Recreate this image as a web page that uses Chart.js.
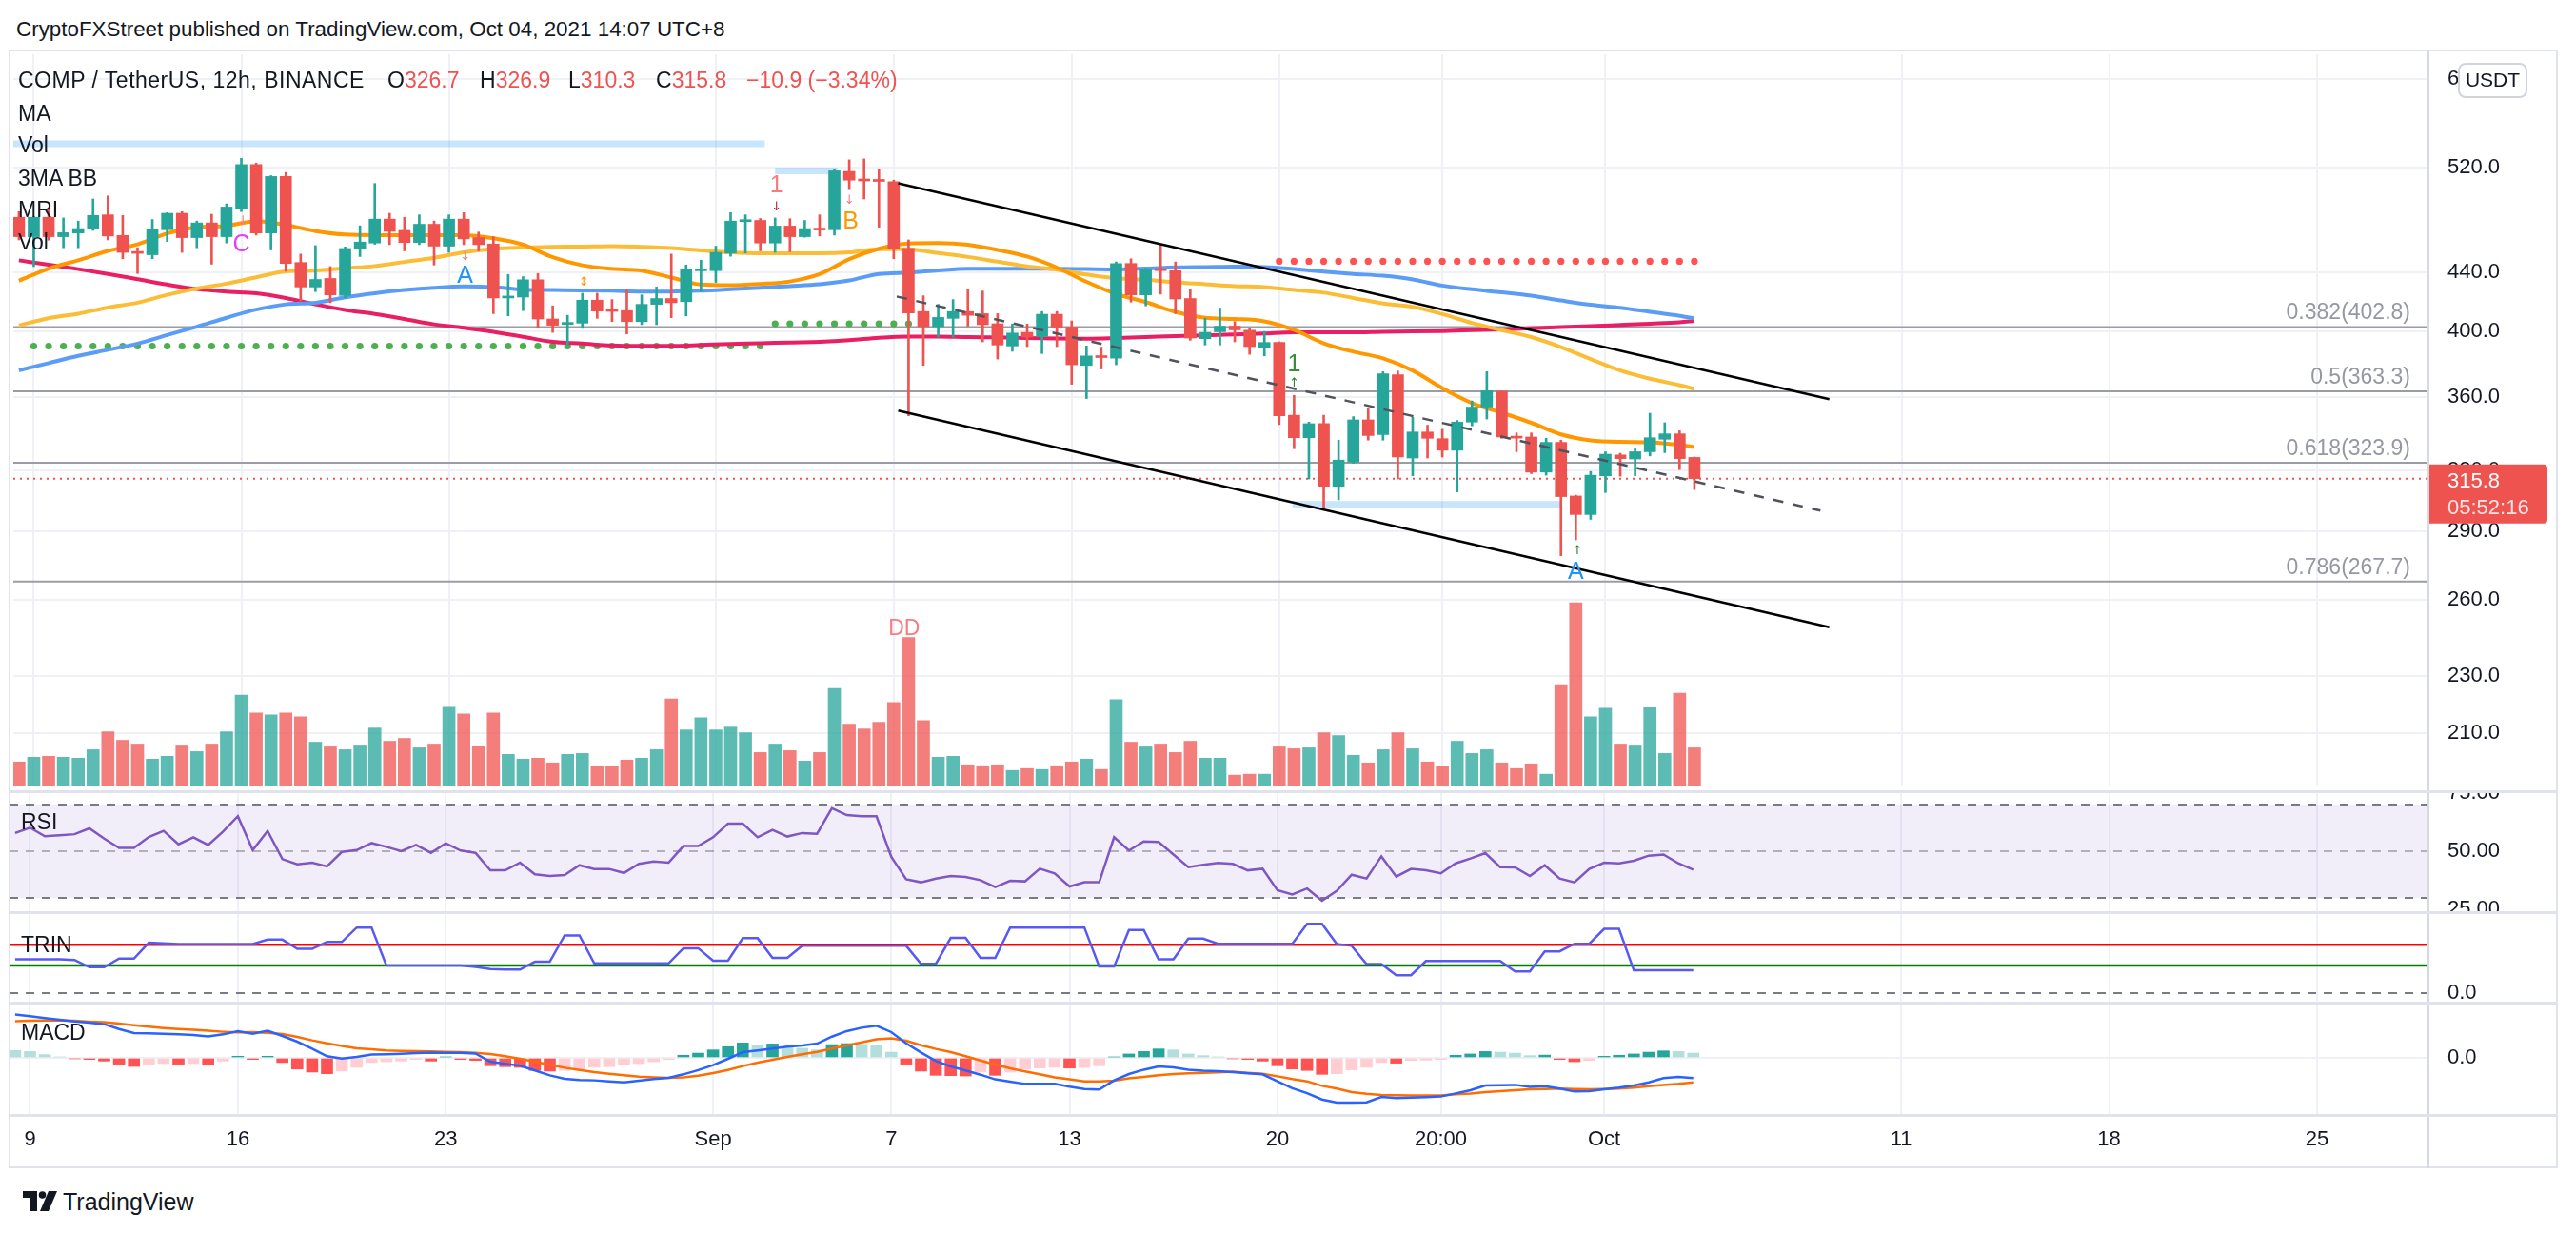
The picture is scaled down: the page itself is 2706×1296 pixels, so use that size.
<!DOCTYPE html>
<html>
<head>
<meta charset="utf-8">
<title>COMP / TetherUS 12h</title>
<script src="https://cdn.jsdelivr.net/npm/chart.js@4.4.1/dist/chart.umd.min.js"></script>
<style>
html,body{margin:0;padding:0;background:#fff;}
body{width:2706px;height:1296px;position:relative;overflow:hidden;font-family:"Liberation Sans",Arial,sans-serif;color:#131722;}
canvas{position:absolute;left:10px;}
.t{position:absolute;white-space:pre;line-height:1;font-size:23px;z-index:6;}
.r{color:#ef5350;}
.sep{position:absolute;background:#e0e3eb;z-index:5;}
</style>
</head>
<body>
<div class="t" style="left:17px;top:20px;font-size:22.4px;">CryptoFXStreet published on TradingView.com, Oct 04, 2021 14:07 UTC+8</div>

<div class="t" style="left:19px;top:73px;letter-spacing:0.5px;">COMP / TetherUS, 12h, BINANCE</div>
<div class="t" style="left:407px;top:73px;">O<span class="r" id="lgO"></span></div>
<div class="t" style="left:504px;top:73px;">H<span class="r" id="lgH"></span></div>
<div class="t" style="left:597px;top:73px;">L<span class="r" id="lgL"></span></div>
<div class="t" style="left:689px;top:73px;">C<span class="r" id="lgC"></span></div>
<div class="t r" style="left:784px;top:73px;" id="lgChg"></div>
<div class="t" style="left:19px;top:108px;">MA</div>
<div class="t" style="left:19px;top:141px;">Vol</div>
<div class="t" style="left:19px;top:176px;">3MA BB</div>
<div class="t" style="left:19px;top:209px;">MRI</div>
<div class="t" style="left:19px;top:243px;">Vol</div>
<div class="t" style="left:22px;top:852px;">RSI</div>
<div class="t" style="left:22px;top:981px;">TRIN</div>
<div class="t" style="left:22px;top:1073px;">MACD</div>

<canvas id="cPrice" width="2676" height="777" style="top:53px"></canvas>
<canvas id="cRsi" width="2676" height="124" style="top:833px"></canvas>
<canvas id="cTrin" width="2676" height="92" style="top:960px"></canvas>
<canvas id="cMacd" width="2676" height="171" style="top:1055px"></canvas>

<div class="sep" style="left:10px;top:52px;width:2677px;height:2px;"></div>
<div class="sep" style="left:9px;top:52px;width:2px;height:1175px;"></div>
<div class="sep" style="left:2685px;top:52px;width:2px;height:1175px;"></div>
<div class="sep" style="left:10px;top:1225px;width:2677px;height:2px;"></div>
<div class="sep" style="left:2550px;top:52px;width:2px;height:1175px;background:#d6d9e1;"></div>
<div class="sep" style="left:10px;top:830px;width:2677px;height:3px;"></div>
<div class="sep" style="left:10px;top:957px;width:2677px;height:3px;"></div>
<div class="sep" style="left:10px;top:1052px;width:2677px;height:3px;"></div>
<div class="sep" style="left:10px;top:1170px;width:2677px;height:3px;"></div>

<svg style="position:absolute;left:24px;top:1251px;z-index:6" width="36" height="22" viewBox="0 0 36 22">
  <rect x="0" y="0" width="15" height="7" fill="#131722"/>
  <rect x="7" y="0" width="8" height="21" fill="#131722"/>
  <circle cx="20.5" cy="4" r="3.8" fill="#131722"/>
  <polygon points="27,0 36,0 27,21 18,21" fill="#131722"/>
</svg>
<div class="t" style="left:66px;top:1250px;font-size:25px;">TradingView</div>

<script>
// ---------------- DATA ----------------
const barStart = -1;                 // first bar index (Aug 8, 20:00); bar 0 = Aug 9
const openP = [480.3,465.6,480.3,465.6,468.4,471.7,482.2,466.5,453.9,452.3,
 470.8,483.4,464.9,476.0,465.6,487.1,522.7,468.4,512.8,446.7,
 429.5,435.4,423.7,456.9,460.9,478.9,470.3,461.3,475.0,458.6,
 478.9,464.9,460.2,422.0,422.6,434.5,408.0,404.5,405.3,420.5,
 413.5,413.5,406.3,417.7,421.6,419.5,440.8,440.9,453.5,477.0,
 477.9,460.9,473.6,465.6,471.0,470.8,517.0,509.5,509.0,508.5,
 456.9,412.9,403.1,408.4,412.9,411.5,404.9,390.7,399.3,396.7,
 411.1,402.7,378.7,384.5,383.1,446.0,424.1,441.5,440.9,421.6,
 395.3,399.7,403.3,400.7,389.4,392.9,349.6,337.2,344.9,311.9,
 324.3,347.0,338.9,373.0,326.4,340.3,336.7,330.5,345.8,354.2,
 363.3,337.4,337.6,319.1,334.7,307.1,298.1,317.2,328.0,325.9,
 329.7,336.4,339.3,326.7];
const highP = [484.7,481.0,487.1,479.8,477.4,494.6,497.1,481.7,457.4,478.6,
 483.9,484.7,477.4,482.7,490.8,528.0,524.0,513.5,516.2,452.8,
 459.0,443.8,458.0,473.8,507.1,483.4,480.3,482.2,477.4,482.2,
 483.9,469.1,465.6,438.2,436.7,438.9,416.7,410.4,425.2,425.2,
 420.9,427.4,424.1,429.5,452.8,444.9,448.3,458.6,484.0,482.2,
 479.4,479.8,479.2,477.9,482.2,518.8,526.7,527.5,518.8,509.8,
 463.2,423.5,417.7,420.9,428.0,426.7,411.5,404.7,404.7,412.9,
 412.9,406.7,390.7,390.0,447.1,449.4,442.6,459.7,447.1,428.0,
 408.4,415.2,406.3,401.9,399.9,393.3,360.9,345.8,349.6,335.9,
 348.8,353.2,374.9,375.3,348.4,344.1,341.8,346.7,357.7,374.9,
 363.5,339.8,339.8,336.9,335.9,307.5,319.4,329.7,328.9,331.3,
 350.7,345.4,341.0,326.9];
const lowP = [463.2,443.8,463.0,457.4,457.4,470.3,463.2,449.4,438.9,449.4,
 462.0,454.0,457.4,445.5,460.9,484.7,466.8,455.8,440.4,419.9,
 426.3,418.8,422.0,451.0,460.0,459.7,455.1,459.7,444.9,454.0,
 459.7,455.1,411.5,410.0,413.5,402.3,399.3,391.3,401.9,408.4,
 406.3,398.3,404.3,404.3,408.8,410.0,426.3,432.7,451.2,453.5,
 455.1,454.0,454.5,465.2,466.1,466.8,502.1,494.6,472.7,449.4,
 349.3,378.7,396.3,396.3,403.3,393.3,382.6,387.4,390.3,386.0,
 390.3,367.4,359.1,376.5,379.1,419.2,416.7,424.6,411.5,394.3,
 391.3,391.3,393.3,385.5,384.5,344.4,331.3,315.6,301.1,305.2,
 323.6,335.9,335.9,315.6,317.2,326.4,326.9,309.1,343.7,347.5,
 336.9,329.7,318.3,317.5,279.0,286.2,295.8,308.8,317.0,317.2,
 327.5,329.2,320.4,310.3];
const closeP = [465.6,480.3,465.6,468.6,471.7,481.7,466.1,454.0,453.3,471.0,
 483.4,464.9,476.0,465.6,488.3,522.7,468.4,512.8,446.0,429.5,
 434.7,424.1,456.9,461.6,478.9,469.6,461.3,475.0,458.6,478.9,
 464.0,459.7,422.0,422.6,434.5,408.0,403.9,405.1,420.5,413.2,
 413.0,406.3,417.7,421.6,418.8,441.5,441.1,454.0,477.4,477.4,
 460.9,473.6,465.6,471.7,470.6,517.5,509.8,509.2,508.8,456.3,
 411.9,403.1,409.0,412.9,410.4,404.3,391.3,398.9,396.3,411.1,
 402.7,379.1,384.5,383.5,446.0,424.1,442.0,440.9,421.3,395.7,
 399.3,403.3,400.9,390.3,392.9,349.3,337.2,344.9,311.9,325.3,
 347.0,338.4,373.6,326.9,340.3,336.9,330.5,345.8,354.2,363.6,
 337.6,337.0,319.1,334.7,306.8,298.1,317.5,328.4,326.1,329.7,
 337.2,339.3,326.1,315.8];
const volumeK = [25,30,31,30,29,38,57,48,44,28,
 31,43,36,44,57,96,77,75,77,73,
 46,41,38,43,61,47,50,40,44,84,
 76,42,77,33,28,29,24,33,34,20,
 20,27,29,38,92,59,72,59,62,56,
 35,44,37,26,35,103,65,60,67,88,
 157,69,30,31,22,21,22,16,18,17,
 21,25,28,17,91,46,41,44,35,47,
 29,29,11,12,12,41,39,40,56,53,
 32,24,38,56,39,25,20,47,34,38,
 24,18,23,12,107,194,73,82,44,43,
 83,34,98,40];
const rsiVals = [57.8,60.1,56.4,56.8,57.3,59.8,55.4,51.4,51.4,56.1,
 58.7,53.0,56.0,52.7,58.4,65.0,50.5,58.7,46.6,44.4,
 45.1,43.5,49.7,50.5,53.5,51.9,50.0,52.7,49.3,53.4,
 50.3,49.3,41.8,41.8,45.1,40.1,39.4,39.8,44.0,42.4,
 42.4,40.7,44.6,45.6,45.1,52.2,52.2,56.0,61.8,61.8,
 56.0,59.1,56.3,57.8,57.5,68.4,65.5,65.0,65.0,47.6,
 38.0,36.7,38.3,39.4,39.0,37.6,34.6,37.3,37.1,42.5,
 40.5,34.9,36.7,36.7,56.0,50.3,54.2,54.0,48.6,43.2,
 44.2,45.0,44.6,41.8,42.5,33.3,31.5,34.0,28.8,33.0,
 39.9,38.3,47.8,39.1,42.4,41.8,40.5,44.8,46.9,49.2,
 43.2,43.1,39.4,44.0,38.3,36.7,42.4,45.1,44.8,45.9,
 48.1,48.6,44.8,42.1];
const rsiBands = [70, 50, 30];
const trinVals = [0.98,0.98,0.98,0.98,0.96,0.75,0.75,1.00,1.00,1.46,
 1.44,1.42,1.42,1.42,1.42,1.42,1.42,1.55,1.55,1.28,
 1.28,1.48,1.48,1.90,1.90,0.80,0.80,0.80,0.80,0.80,
 0.80,0.76,0.70,0.68,0.68,0.91,0.91,1.67,1.67,0.86,
 0.86,0.86,0.86,0.86,0.86,1.30,1.30,0.94,0.94,1.59,
 1.59,1.02,1.02,1.37,1.37,1.37,1.37,1.37,1.37,1.37,
 1.37,0.85,0.85,1.60,1.60,1.02,1.02,1.90,1.90,1.90,
 1.90,1.90,1.90,0.77,0.77,1.83,1.83,0.98,0.98,1.58,
 1.58,1.43,1.43,1.43,1.43,1.43,1.43,2.01,2.01,1.42,
 1.37,0.84,0.84,0.52,0.52,0.93,0.93,0.93,0.93,0.93,
 0.93,0.63,0.63,1.21,1.21,1.43,1.43,1.86,1.86,0.66,
 0.66,0.66,0.66,0.66];
const trinUpper = 1.4, trinLower = 0.8;
const macdLine = [26.7,25.7,24.5,23.5,22.5,21.8,20.8,17.8,15.3,15.1,
 14.9,14.5,14.1,13.3,14.5,16.5,14.9,16.7,13.5,10.0,
 5.7,1.0,-0.4,0.6,2.0,2.2,2.5,2.9,3.3,3.1,
 3.1,2.7,-2.4,-3.7,-4.9,-7.8,-10.8,-12.9,-13.7,-13.9,
 -14.5,-15.1,-14.1,-13.1,-12.4,-10.2,-7.6,-4.5,-0.6,3.5,
 4.5,5.7,6.9,7.6,8.8,13.1,16.5,18.6,19.8,15.9,
 9.0,3.3,-2.0,-5.3,-7.8,-10.4,-13.3,-14.7,-16.1,-16.1,
 -16.1,-17.8,-19.2,-19.6,-13.9,-10.0,-7.3,-5.3,-5.9,-7.3,
 -8.0,-8.2,-8.8,-9.6,-10.2,-14.5,-18.8,-21.8,-25.7,-27.6,
 -27.6,-27.5,-24.1,-24.9,-24.5,-24.3,-23.9,-22.0,-20.0,-17.1,
 -16.9,-16.7,-18.0,-17.5,-19.0,-20.8,-20.6,-19.4,-18.4,-17.1,
 -15.1,-12.5,-11.8,-12.5];
const signalLine = [22.7,22.9,23.1,23.1,22.9,22.4,22.0,21.2,20.2,19.2,
 18.4,17.8,17.3,16.7,16.1,15.7,15.9,15.5,14.7,12.9,
 10.8,9.0,7.3,5.9,5.3,4.5,4.3,4.1,3.9,3.7,
 3.5,3.1,2.4,1.0,-0.6,-2.4,-4.3,-6.1,-7.5,-8.8,
 -9.8,-10.8,-11.6,-12.0,-12.4,-12.0,-11.0,-9.4,-7.5,-5.1,
 -2.9,-1.2,0.6,2.2,3.7,5.7,7.6,9.6,11.4,12.0,
 10.6,7.8,5.5,3.5,1.0,-1.6,-4.1,-6.5,-8.4,-10.2,
 -12.0,-13.3,-14.5,-14.5,-14.1,-12.7,-11.8,-10.8,-10.0,-9.6,
 -9.2,-9.0,-8.6,-9.2,-9.8,-11.4,-13.1,-14.5,-17.3,-19.0,
 -21.2,-22.2,-22.9,-23.1,-23.3,-23.3,-23.3,-22.5,-22.0,-21.2,
 -20.6,-20.0,-19.4,-19.2,-19.0,-19.2,-19.4,-19.2,-19.0,-18.4,
 -17.5,-16.7,-16.1,-15.1];
const macdHist = [4.5,3.9,2.0,0.6,-0.6,-1.0,-2.0,-3.9,-5.3,-3.9,
 -3.5,-3.9,-3.5,-4.3,-2.0,1.0,-1.0,1.0,-2.9,-6.9,
 -8.8,-9.8,-8.2,-5.9,-2.9,-2.4,-2.0,-1.0,-2.0,0.6,
 -1.0,-1.6,-4.9,-5.5,-5.9,-7.8,-8.2,-7.8,-6.9,-5.9,
 -5.5,-4.3,-3.5,-2.4,-1.0,1.6,2.9,4.9,6.9,9.2,
 7.8,8.6,6.9,5.9,4.9,8.2,8.8,8.4,7.5,3.5,
 -3.9,-8.2,-10.8,-11.0,-11.2,-8.8,-10.8,-8.8,-6.9,-6.3,
 -5.9,-6.3,-5.9,-4.9,0.6,2.4,3.9,5.5,4.9,2.4,
 1.4,0.6,-0.6,-1.0,-2.0,-4.9,-6.9,-7.8,-10.2,-9.8,
 -7.5,-5.9,-2.9,-3.3,-1.6,-1.4,-1.0,1.6,2.4,3.9,
 3.5,2.9,1.4,1.7,-1.0,-2.4,-1.6,1.0,1.6,2.4,
 3.5,4.3,3.9,2.9];
// moving averages, read every second bar
const maBars = [-1,1,3,5,7,9,11,13,15,17,19,21,23,25,27,29,31,33,35,37,39,41,43,45,47,49,51,53,55,57,
 59,61,63,65,67,69,71,73,75,77,79,81,83,85,87,89,91,93,95,97,99,101,103,105,107,109,111,112];
const maFast = [433.8,442.4,448.3,455.1,459.9,468.1,472.7,473.8,477.4,474.5,
 469.8,467.2,466.8,466.8,466.8,466.8,464.4,459.7,450.5,444.7,
 442.2,440.9,436.0,431.2,430.7,431.6,433.3,438.4,449.2,456.7,
 460.6,460.9,459.7,455.8,451.0,443.1,433.1,424.7,419.2,412.7,
 408.8,408.0,406.5,400.9,392.4,387.1,383.0,375.6,365.1,356.5,
 351.0,345.4,339.0,335.8,335.0,334.8,333.3,332.2];
const ma50 = [403.8,408.5,411.5,415.6,418.8,424.1,428.4,431.8,436.2,440.4,
 441.1,442.6,444.2,447.1,450.1,454.0,456.7,457.6,458.1,458.3,
 458.6,458.1,457.2,455.5,454.0,453.3,453.3,453.3,454.0,456.4,
 456.3,453.5,450.7,447.3,443.9,441.5,438.2,435.5,434.5,432.7,
 431.4,430.1,429.5,427.4,425.6,422.0,418.3,416.1,411.2,405.4,
 400.7,396.3,390.0,382.6,375.6,370.7,366.9,364.7];
const ma100 = [375.7,380.1,384.5,388.3,392.2,397.6,403.0,408.8,414.2,417.7,
 418.8,422.4,425.2,427.4,429.0,429.9,429.5,427.7,427.4,427.2,
 426.9,426.4,426.4,426.9,427.9,429.0,430.1,431.4,434.0,438.6,
 439.5,441.1,442.2,442.2,442.2,442.2,442.0,441.8,442.4,443.2,
 443.5,443.8,443.5,442.0,440.2,438.6,437.3,434.7,430.5,427.9,
 425.8,423.5,420.3,417.4,415.4,412.7,410.0,408.4];
const ma200 = [448.3,445.1,442.0,438.6,434.9,431.2,428.1,426.3,425.2,422.0,
 417.7,414.0,411.3,408.0,404.5,402.3,399.7,396.5,393.3,392.2,
 391.0,390.7,390.7,391.3,392.0,392.4,392.9,393.3,394.3,395.9,
 396.7,396.7,396.3,396.1,395.7,395.4,395.3,395.7,396.3,397.0,
 397.4,398.0,398.6,399.3,399.3,399.3,399.7,399.9,400.2,400.7,
 401.2,401.9,402.7,403.3,404.1,404.9,405.8,406.7];
// drawings
const fibLevels = [0.382, 0.5, 0.618, 0.786];
const fibPrices = [402.8, 363.3, 323.9, 267.7];
const lastPrice = 315.8;
const countdown = '05:52:16';
const channelBars = [58.3, 121.1];
const channelUpper = [507.2, 358.7];
const channelLower = [352.2, 248.8];
const midBars = [58.2, 120.5];
const channelMid = [423.0, 300.0];
const zoneFrom = [-1.4, 50.0, 84.9];
const zoneTo = [49.3, 54.2, 103.0];
const zonePrice = [540.4, 517.4, 303.0];
const dotFrom = [0, 50, 84];
const dotTo = [49, 59, 112];
const dotPrice = [390.6, 404.9, 447.6];
const dotColor = ['#4caf50', '#4caf50', '#ff5252'];
const noteText = ['C', 'A', '1', 'B', '1', 'A'];
const noteBar = [14.0, 29.1, 50.1, 55.1, 85.0, 104.0];
const notePrice = [459.7, 437.3, 504.9, 476.7, 378.8, 271.6];
const noteColor = ['#e040fb', '#2196f3', '#f77c80', '#ff9800', '#388e3c', '#2196f3'];
const markGlyph = ['\u2193', '\u2193', '\u2195', '\u2193', '\u2193', '\u2191', '\u2191'];
const markBar = [14.1, 29.1, 37.1, 50.1, 55.0, 85.0, 104.1];
const markPrice = [476.9, 450.7, 432.6, 488.4, 493.6, 368.1, 281.2];
const markColor = ['#f77c80', '#f77c80', '#ff9800', '#b71c1c', '#f77c80', '#2e7d32', '#2e7d32'];
const volNoteText = 'DD', volNoteBar = 58.7, volNoteVal = 166;
// axes
const priceTicks = [600, 520, 440, 400, 360, 320, 290, 260, 230, 210];
const rsiTicks = [75, 50, 25];
const dateTickBars = [0, 14, 28, 46, 58, 70, 84, 95, 106, 126, 140, 154];
const dateTickLabels = ['9', '16', '23', 'Sep', '7', '13', '20', '20:00', 'Oct', '11', '18', '25'];

// ---------------- CHARTS ----------------
const X_MIN = -1.378, X_MAX = 161.506;
const GRID = '#eff1f6';
const TXT = '#131722';
const UP = '#26a69a', DN = '#ef5350';
Chart.defaults.font.family = '"Liberation Sans", Arial, sans-serif';
Chart.defaults.font.size = 22;
Chart.defaults.color = TXT;

const bars = openP.map((_, k) => barStart + k);
const upDown = openP.map((o, k) => closeP[k] >= o);
const candleColors = upDown.map(u => u ? UP : DN);
const volColors = upDown.map(u => u ? 'rgba(38,166,154,0.75)' : 'rgba(239,83,80,0.75)');
const hLine = v => [{x: X_MIN, y: v}, {x: X_MAX, y: v}];
const series = (arr, xs) => arr.map((v, k) => ({x: xs ? xs[k] : bars[k], y: v}));

document.getElementById('lgO').textContent = openP.at(-1).toFixed(1);
document.getElementById('lgH').textContent = highP.at(-1).toFixed(1);
document.getElementById('lgL').textContent = lowP.at(-1).toFixed(1);
document.getElementById('lgC').textContent = closeP.at(-1).toFixed(1);
const chg = closeP.at(-1) - openP.at(-1);
document.getElementById('lgChg').textContent =
  '\u2212' + Math.abs(chg).toFixed(1) + ' (\u2212' + Math.abs(chg / openP.at(-1) * 100).toFixed(2) + '%)';

function xAxis(withLabels) {
  return {
    type: 'linear', min: X_MIN, max: X_MAX, offset: false, position: 'bottom',
    grid: {display: true, color: GRID, lineWidth: 2, drawTicks: false, offset: false},
    border: {display: false},
    ticks: {display: withLabels, autoSkip: false, maxRotation: 0, minRotation: 0, padding: 14,
      font: {size: 22}, color: TXT, callback: (v, i) => dateTickLabels[i]},
    afterBuildTicks: s => { s.ticks = dateTickBars.map(v => ({value: v})); },
    afterFit: s => { s.height = withLabels ? 56 : 0; s.paddingLeft = 0; s.paddingRight = 0; }
  };
}
function yAxis(type, min, max, tickVals, fmt, grid) {
  return {
    type, position: 'right', min, max,
    grid: {display: grid, color: GRID, lineWidth: 2, drawTicks: false},
    border: {display: false},
    ticks: {autoSkip: false, padding: 20, font: {size: 22}, color: TXT, callback: v => fmt(v)},
    afterBuildTicks: s => { s.ticks = tickVals.map(v => ({value: v})); },
    afterFit: s => { s.width = 135; s.paddingTop = 0; s.paddingBottom = 0; }
  };
}
function baseOptions(scales) {
  return {
    responsive: false, maintainAspectRatio: false, animation: false, events: [],
    layout: {padding: 0},
    plugins: {legend: {display: false}, tooltip: {enabled: false}},
    scales
  };
}
const lineDs = (data, color, width, order, extra) => Object.assign({
  type: 'line', data, borderColor: color, borderWidth: width, pointRadius: 0, order,
  fill: false, tension: 0
}, extra || {});

// ---- price pane ----
const priceDatasets = [
  lineDs([{x: channelBars[0], y: channelUpper[0]}, {x: channelBars[1], y: channelUpper[1]}], '#000', 2.5, 0),
  lineDs([{x: channelBars[0], y: channelLower[0]}, {x: channelBars[1], y: channelLower[1]}], '#000', 2.5, 0),
  lineDs([{x: midBars[0], y: channelMid[0]}, {x: midBars[1], y: channelMid[1]}], '#50535e', 2.5, 0, {borderDash: [11, 10]}),
  {type: 'bar', data: bars.map((b, k) => ({x: b, y: [openP[k], closeP[k]]})), backgroundColor: candleColors,
    barThickness: 12, minBarLength: 2, grouped: false, yAxisID: 'y', order: 1},
  {type: 'bar', data: bars.map((b, k) => ({x: b, y: [lowP[k], highP[k]]})), backgroundColor: candleColors,
    barThickness: 2, grouped: false, yAxisID: 'y', order: 2},
  lineDs(series(maFast, maBars), '#ff9800', 4, 3, {cubicInterpolationMode: 'monotone'}),
  lineDs(series(ma50, maBars), '#fbbd35', 4, 4, {cubicInterpolationMode: 'monotone'}),
  lineDs(series(ma100, maBars), '#5b9cf6', 4, 5, {cubicInterpolationMode: 'monotone'}),
  lineDs(series(ma200, maBars), '#e91e63', 4, 6, {cubicInterpolationMode: 'monotone'}),
];
dotPrice.forEach((p, k) => {
  const pts = [];
  for (let b = dotFrom[k]; b <= dotTo[k]; b++) pts.push({x: b, y: p});
  priceDatasets.push({type: 'line', data: pts, showLine: false, pointRadius: 3.6, pointBorderWidth: 0,
    pointBackgroundColor: dotColor[k], order: 7});
});
zonePrice.forEach((p, k) => {
  priceDatasets.push(lineDs([{x: zoneFrom[k], y: p}, {x: zoneTo[k], y: p}], 'rgba(33,150,243,0.25)', 7, 8,
    {borderCapStyle: 'butt'}));
});
priceDatasets.push(lineDs(hLine(lastPrice), '#ef5350', 2, 9, {borderDash: [2, 5]}));
fibPrices.forEach(p => priceDatasets.push(lineDs(hLine(p), '#9b9ca4', 2, 10)));
priceDatasets.push({type: 'bar', data: bars.map((b, k) => ({x: b, y: volumeK[k]})), backgroundColor: volColors,
  barThickness: 13, grouped: false, yAxisID: 'yv', order: 11});

const pricePlugin = {
  id: 'priceExtras',
  afterDatasetsDraw(chart) {
    const {ctx, chartArea: ca} = chart;
    const x = chart.scales.x, y = chart.scales.y, yv = chart.scales.yv;
    ctx.save();
    ctx.font = '23px "Liberation Sans"';
    ctx.fillStyle = '#9598a1';
    ctx.textAlign = 'right';
    ctx.textBaseline = 'bottom';
    fibLevels.forEach((lv, k) => {
      ctx.fillText(lv + '(' + fibPrices[k].toFixed(1) + ')', ca.right - 19, y.getPixelForValue(fibPrices[k]) - 3);
    });
    ctx.textAlign = 'center';
    ctx.textBaseline = 'middle';
    ctx.font = '25px "Liberation Sans"';
    noteText.forEach((t, k) => {
      ctx.fillStyle = noteColor[k];
      ctx.fillText(t, x.getPixelForValue(noteBar[k]), y.getPixelForValue(notePrice[k]));
    });
    ctx.font = '23px "Liberation Sans"';
    ctx.fillStyle = '#f77c80';
    ctx.fillText(volNoteText, x.getPixelForValue(volNoteBar), yv.getPixelForValue(volNoteVal));
    ctx.font = '13px "DejaVu Sans"';
    markGlyph.forEach((g, k) => {
      ctx.fillStyle = markColor[k];
      ctx.fillText(g, x.getPixelForValue(markBar[k]), y.getPixelForValue(markPrice[k]));
    });
    ctx.restore();
  },
  afterDraw(chart) {
    const {ctx, chartArea: ca} = chart;
    const y = chart.scales.y;
    ctx.save();
    // currency box
    ctx.fillStyle = '#fff';
    ctx.strokeStyle = '#d1d4dc';
    ctx.lineWidth = 2;
    ctx.beginPath();
    ctx.roundRect(ca.right + 32, 14, 71, 35, 7);
    ctx.fill(); ctx.stroke();
    ctx.fillStyle = TXT;
    ctx.font = '21px "Liberation Sans"';
    ctx.textAlign = 'center'; ctx.textBaseline = 'middle';
    ctx.fillText('USDT', ca.right + 67.5, 32);
    // last price label
    const py = y.getPixelForValue(lastPrice);
    ctx.fillStyle = '#ef5350';
    ctx.beginPath();
    ctx.roundRect(ca.right, py - 15, 125, 62, [0, 4, 4, 0]);
    ctx.fill();
    ctx.textAlign = 'left';
    ctx.font = '22px "Liberation Sans"';
    ctx.fillStyle = '#ffffff';
    ctx.fillText(lastPrice.toFixed(1), ca.right + 20, py + 3);
    ctx.fillStyle = 'rgba(255,255,255,0.85)';
    ctx.fillText(countdown, ca.right + 20, py + 31);
    ctx.restore();
  }
};

new Chart(document.getElementById('cPrice'), {
  type: 'line',
  data: {datasets: priceDatasets},
  options: baseOptions({
    x: xAxis(false),
    y: yAxis('logarithmic', 192.67, 623.95, priceTicks, v => Number(v).toFixed(1), true),
    yv: {type: 'linear', display: false, min: -1, max: 776}
  }),
  plugins: [pricePlugin]
});

// ---- RSI pane ----
new Chart(document.getElementById('cRsi'), {
  type: 'line',
  data: {datasets: [
    lineDs(series(rsiVals), '#7e57c2', 2.5, 0),
    lineDs(hLine(rsiBands[0]), '#787b86', 2, 2, {borderDash: [9, 8], fill: {target: 3}, backgroundColor: 'rgba(126,87,194,0.1)'}),
    lineDs(hLine(rsiBands[1]), 'rgba(120,123,134,0.55)', 2, 1, {borderDash: [9, 8]}),
    lineDs(hLine(rsiBands[2]), '#787b86', 2, 1, {borderDash: [9, 8]})
  ]},
  options: baseOptions({
    x: xAxis(false),
    y: yAxis('linear', 24.29, 74.90, rsiTicks, v => Number(v).toFixed(2), false)
  })
});

// ---- TRIN pane ----
new Chart(document.getElementById('cTrin'), {
  type: 'line',
  data: {datasets: [
    lineDs(series(trinVals), '#5858f2', 2.5, 0),
    lineDs(hLine(trinUpper), '#ff0000', 2.5, 1),
    lineDs(hLine(trinLower), '#008000', 2.5, 1),
    lineDs(hLine(0), '#787b86', 2, 2, {borderDash: [9, 8]})
  ]},
  options: baseOptions({
    x: xAxis(false),
    y: yAxis('linear', -0.248, 2.290, [0], v => Number(v).toFixed(1), false)
  })
});

// ---- MACD pane ----
const histColors = macdHist.map((h, k) => {
  const prev = k > 0 ? macdHist[k - 1] : h + 1;
  if (h >= 0) return h > prev ? '#26a69a' : '#b2dfdb';
  return h < prev ? '#ff5252' : '#ffcdd2';
});
new Chart(document.getElementById('cMacd'), {
  type: 'line',
  data: {datasets: [
    {type: 'bar', data: series(macdHist), backgroundColor: histColors, barThickness: 12, grouped: false, order: 2},
    lineDs(series(macdLine), '#2962ff', 2.5, 0),
    lineDs(series(signalLine), '#ff6d00', 2.5, 1)
  ]},
  options: baseOptions({
    x: xAxis(true),
    y: yAxis('linear', -34.71, 32.94, [0], v => Number(v).toFixed(1), true)
  })
});
</script>
</body>
</html>
